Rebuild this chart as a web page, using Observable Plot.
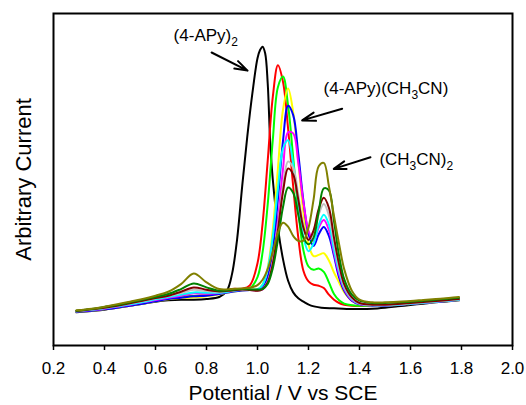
<!DOCTYPE html>
<html><head><meta charset="utf-8">
<script src="https://cdn.jsdelivr.net/npm/d3@7"></script>
<script src="https://cdn.jsdelivr.net/npm/@observablehq/plot@0.6"></script>
<style>html,body{margin:0;padding:0;background:#fff;}</style>
</head><body><div id="chart"></div>
<script>
// Shared potential grid (V vs SCE) for the coloured curves
const potential = [0.29,0.35,0.40,0.45,0.50,0.55,0.60,0.65,0.70,0.75,0.80,0.85,0.90,0.94,0.97,1.00,1.02,1.04,1.06,1.08,1.10,1.12,1.14,1.16,1.18,1.20,1.22,1.24,1.26,1.28,1.30,1.32,1.34,1.37,1.40,1.45,1.50,1.55,1.60,1.65,1.70,1.75,1.79];

// Black curve has its own (denser) grid
const blackPotential = [0.29,0.35,0.40,0.45,0.50,0.55,0.60,0.65,0.70,0.75,0.80,0.85,0.88,0.90,0.92,0.94,0.96,0.98,1.00,1.01,1.02,1.03,1.04,1.05,1.06,1.08,1.10,1.12,1.14,1.16,1.18,1.21,1.25,1.30,1.35,1.40,1.45,1.50,1.55,1.60,1.65,1.70,1.75,1.79];
const blackCurrent = [10.0,10.4,10.8,11.4,12.0,12.6,13.2,13.6,13.8,13.8,14.0,14.6,16.5,21.5,32,48,63,76,86.5,89,90,88,79,61,50,35.5,26,19.5,16,14.2,13.2,12.0,11.4,11.2,11.0,11.0,11.1,11.4,11.8,12.2,12.6,13.0,13.3,13.6];

const redCurrent = [10.3,10.6,11.0,11.6,12.2,12.9,13.6,14.2,14.6,14.9,15.1,15.8,17.0,17.1,18.1,24.8,36.8,55.6,74.9,84.4,79.4,65.3,47.9,32.5,22.5,19.3,18.3,18.0,17.3,15.3,13.8,12.8,12.3,12.0,11.9,12.0,12.1,12.4,12.6,12.9,13.2,13.5,13.8];
const limeCurrent = [10.3,10.6,11.0,11.6,12.2,12.9,13.6,14.2,14.6,14.9,15.1,15.7,16.6,17.0,17.2,20.6,28.1,42.5,61.9,77.8,81.0,72.3,56.6,40.6,28.7,23.8,22.8,23.2,22.2,19.0,15.5,13.6,12.6,12.1,12.0,12.0,12.1,12.3,12.6,12.9,13.2,13.5,13.8];
const yellowCurrent = [10.2,10.5,10.9,11.4,12.0,12.6,13.3,13.9,14.3,14.5,14.8,15.4,16.2,16.6,16.8,16.9,18.4,23.5,35.0,53.3,71.0,77.4,70.2,55.4,40.1,30.4,26.9,27.3,27.8,25.6,22.0,19.0,16.0,13.5,12.4,12.0,12.0,12.2,12.5,12.8,13.1,13.4,13.7];
const blueCurrent = [10.2,10.5,10.9,11.4,12.0,12.6,13.3,14.0,14.4,14.8,15.0,15.5,16.2,16.6,16.7,16.8,17.4,20.6,29.0,44.1,61.6,72.2,69.4,57.7,43.6,33.6,30.0,33.5,35.7,33.0,27.0,20.5,16.5,13.5,12.4,12.0,12.0,12.2,12.5,12.8,13.1,13.4,13.7];
const magentaCurrent = [10.3,10.7,11.1,11.7,12.3,13.0,13.7,14.4,15.0,15.7,15.6,15.8,16.4,16.8,16.7,16.6,16.9,19.2,25.2,37.4,53.1,64.2,63.9,55.0,43.1,34.6,31.5,35.5,37.8,34.8,28.0,21.5,17.0,13.7,12.5,12.1,12.1,12.3,12.6,12.9,13.2,13.5,13.8];
const cyanCurrent = [10.3,10.8,11.2,11.8,12.4,13.1,13.9,14.6,15.3,16.0,15.9,15.9,16.4,16.8,16.8,16.9,18.3,23.0,32.9,47.2,59.3,61.8,54.7,43.2,32.7,28.4,30.7,36.3,39.4,36.5,29.0,22.5,17.5,14.0,12.6,12.1,12.1,12.3,12.6,12.9,13.2,13.5,13.8];
const grayCurrent = [10.4,10.9,11.4,12.0,12.7,13.4,14.2,14.9,15.8,16.8,16.4,16.2,16.6,16.9,16.7,16.5,17.0,19.2,25.1,35.7,48.0,55.4,53.5,45.4,36.3,31.8,33.8,39.5,42.6,39.2,31.0,23.5,18.0,14.2,12.7,12.2,12.2,12.4,12.7,13.0,13.3,13.6,13.9];
const darkredCurrent = [10.4,10.9,11.4,12.0,12.7,13.5,14.3,15.0,16.2,17.5,16.8,16.3,16.6,16.9,16.7,16.5,17.0,19.0,24.6,34.7,46.3,53.3,51.5,43.9,35.5,31.8,34.7,41.1,44.5,41.5,32.5,24.5,18.5,14.5,12.8,12.3,12.3,12.5,12.8,13.1,13.4,13.7,14.0];
const darkgreenCurrent = [10.5,11.0,11.6,12.2,13.0,13.8,14.6,15.5,17.0,18.7,17.5,16.5,16.8,17.0,16.9,16.9,17.0,18.5,23.3,31.8,41.7,47.6,46.0,39.3,32.5,30.5,32.5,40.3,47.3,46.7,37.5,27.0,20.0,15.3,13.5,12.8,12.8,13.0,13.2,13.5,13.8,14.1,14.4];
const oliveCurrent = [10.6,11.1,11.7,12.4,13.2,14.0,15.0,16.2,18.5,21.7,19.0,17.0,17.0,17.2,17.4,18.2,19.8,23.0,28.3,34.0,37.0,35.8,33.0,31.5,31.6,35.5,44.0,54.0,55.0,48.0,39.0,30.5,23.0,16.5,13.8,13.0,13.0,13.2,13.4,13.7,14.0,14.3,14.6];

const seriesNames = ["black","red","lime","yellow","blue","magenta","cyan","gray","darkred","darkgreen","olive"];
const seriesColors = ["#000000","#ff0000","#00ff00","#ffff00","#0000ff","#ff00ff","#00ffff","#c0c0c0","#800000","#008000","#808000"];

const xTicks = [0.2,0.4,0.6,0.8,1.0,1.2,1.4,1.6,1.8,2.0];
const xTitle = "Potential / V vs SCE";
const yTitle = "Arbitrary Current";

// Annotations
const labelText = ["(4-APy)_2", "(4-APy)(CH_3CN)", "(CH_3CN)_2"];
const labelX = [0.671, 1.259, 1.478];
const labelY = [91.6, 75.9, 54.5];
const arrowX1 = [0.82, 1.332, 1.443];
const arrowY1 = [88.25, 71.3, 56.7];
const arrowX2 = [0.961, 1.175, 1.299];
const arrowY2 = [82.8, 67.8, 53.2];

const seriesData = [
  [blackPotential, blackCurrent],
  [potential, redCurrent],
  [potential, limeCurrent],
  [potential, yellowCurrent],
  [potential, blueCurrent],
  [potential, magentaCurrent],
  [potential, cyanCurrent],
  [potential, grayCurrent],
  [potential, darkredCurrent],
  [potential, darkgreenCurrent],
  [potential, oliveCurrent]
];

const lineMarks = seriesData.map(([xs, ys], i) =>
  Plot.line(xs.map((x, j) => ({x, y: ys[j]})), {
    x: "x", y: "y", stroke: seriesColors[i], strokeWidth: 2, curve: "catmull-rom"
  })
);

const labels = labelText.map((t, i) => ({t, x: labelX[i], y: labelY[i]}));
const arrows = arrowX1.map((x1, i) => ({x1, y1: arrowY1[i], x2: arrowX2[i], y2: arrowY2[i]}));

const chart = Plot.plot({
  width: 526,
  height: 405,
  marginLeft: 53,
  marginRight: 14,
  marginTop: 13,
  marginBottom: 60,
  x: {domain: [0.2, 2.0]},
  y: {domain: [0, 100]},
  style: {fontFamily: "Arial, 'Liberation Sans', sans-serif", background: "white", color: "black", overflow: "visible"},
  marks: [
    ...lineMarks,
    Plot.frame({stroke: "black", strokeWidth: 2}),
    Plot.axisX({ticks: xTicks, tickFormat: d3.format(".1f"), tickSize: 5, tickPadding: 11, fontSize: 17, strokeWidth: 1.5, label: null}),
    Plot.axisY({ticks: [], label: null}),
    Plot.text([xTitle], {text: d => d, frameAnchor: "bottom", textAnchor: "middle", lineAnchor: "middle", dy: 48, fontSize: 21}),
    Plot.text([yTitle], {text: d => d, frameAnchor: "left", textAnchor: "middle", lineAnchor: "middle", rotate: -90, dx: -30, fontSize: 22}),
    Plot.arrow(arrows, {x1: "x1", y1: "y1", x2: "x2", y2: "y2", stroke: "black", strokeWidth: 2, headLength: 16, headAngle: 36}),
    Plot.text(labels, {x: "x", y: "y", text: "t", textAnchor: "start", lineAnchor: "bottom", fontSize: 17})
  ]
});

// Render subscripts: "_d" becomes a lowered smaller digit
const NS = "http://www.w3.org/2000/svg";
chart.querySelectorAll("text").forEach(t => {
  const s = t.textContent;
  if (!s.includes("_")) return;
  t.textContent = "";
  const parts = s.split(/_(\d)/);
  let lowered = false;
  parts.forEach((p, i) => {
    if (p === "") return;
    const ts = document.createElementNS(NS, "tspan");
    ts.textContent = p;
    if (i % 2 === 1) {
      ts.setAttribute("font-size", "12");
      ts.setAttribute("dy", "5");
      lowered = true;
    } else if (lowered) {
      ts.setAttribute("dy", "-5");
      lowered = false;
    }
    t.appendChild(ts);
  });
});

document.getElementById("chart").appendChild(chart);
</script>
</body></html>
